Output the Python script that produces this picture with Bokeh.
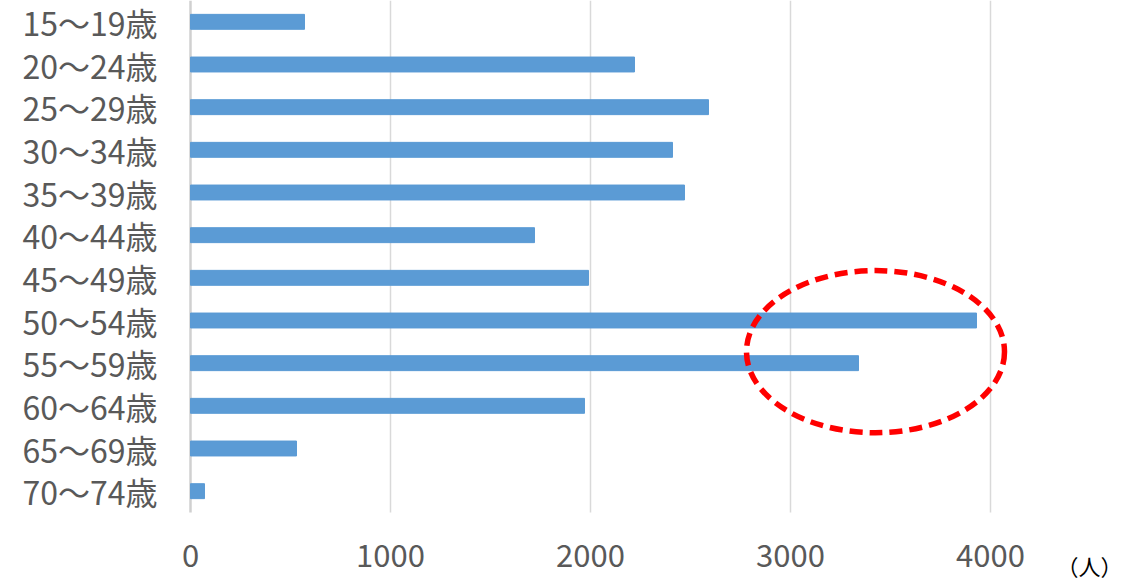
from bokeh.plotting import figure
from bokeh.models import Range1d
from bokeh.core.properties import value
from bokeh.embed import file_html
from bokeh.resources import INLINE

categories = ["15〜19歳", "20〜24歳", "25〜29歳", "30〜34歳", "35〜39歳", "40〜44歳",
              "45〜49歳", "50〜54歳", "55〜59歳", "60〜64歳", "65〜69歳", "70〜74歳"]
values = [570, 2220, 2590, 2410, 2470, 1720, 1990, 3930, 3340, 1970, 530, 70]
x_ticks = [0, 1000, 2000, 3000, 4000]
x_tick_labels = [str(t) for t in x_ticks]
unit_label = "（人）"

FONT = "Noto Sans CJK JP"
n = len(categories)
pos = list(range(n))
top_edge = -0.5
bottom_edge = n - 0.5
px_per_unit = 512 / n          # vertical pixels per category
px_per_value = 0.2             # horizontal pixels per person

p = figure(width=1127, height=584, output_backend="svg", toolbar_location=None,
           x_range=Range1d(-190 / px_per_value, (1127 - 190) / px_per_value),
           y_range=Range1d(top_edge + 584 / px_per_unit, top_edge),
           min_border=0)
p.outline_line_color = None
p.background_fill_color = "white"
p.border_fill_color = "white"
p.axis.visible = False
p.grid.grid_line_color = None

# vertical gridlines
p.segment(x0=x_ticks[1:], x1=x_ticks[1:], y0=[top_edge] * 4, y1=[bottom_edge] * 4,
          line_color="#d9d9d9", line_width=1.5)
# category axis line
p.segment(x0=[0], x1=[0], y0=[top_edge], y1=[bottom_edge], line_color="#d0d0d0", line_width=2.5)

p.hbar(y=pos, right=values, left=0, height=0.35, color="#5b9bd5")

# highlight ellipse
p.ellipse(x=[3425], y=[7.73], width=1290, height=3.8, fill_color=None,
          line_color="#ff0000", line_width=5.5, line_dash="13 7")

# category labels
p.text(x=[-33 / px_per_value] * n, y=pos, text=categories, text_font=value(FONT),
       text_font_size="32px", text_color="#595959", text_align="right", text_baseline="middle")

# value axis labels
label_y = bottom_edge + 43 / px_per_unit
p.text(x=x_ticks, y=[label_y] * len(x_ticks), text=x_tick_labels, text_font=value(FONT),
       text_font_size="31px", text_color="#595959", text_align="center", text_baseline="middle")
p.text(x=[4330], y=[bottom_edge + 52 / px_per_unit], text=[unit_label], text_font=value(FONT),
       text_font_size="22px", text_color="#000000", text_align="left", text_baseline="middle")

open("out.html", "w").write(file_html(p, INLINE))
